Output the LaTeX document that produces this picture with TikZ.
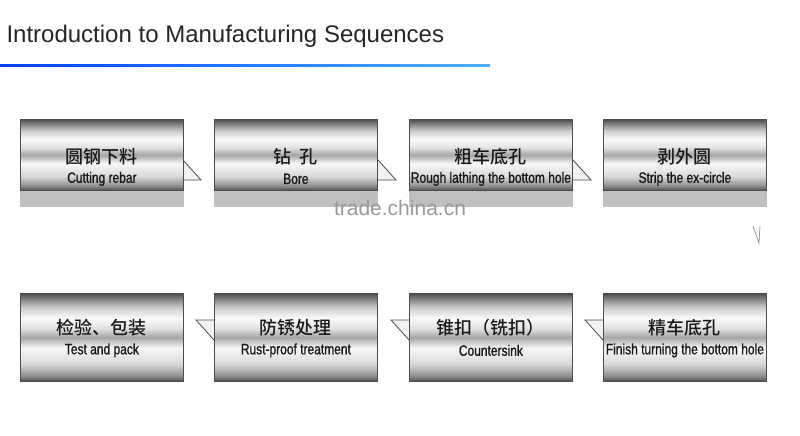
\documentclass[tikz,border=0pt]{standalone}
\usepackage{fontspec}
\setmainfont{Liberation Sans}
\newfontfamily\cjk{Noto Sans CJK SC Medium}
\newfontfamily\narrowf[FakeStretch=0.8,FakeBold=1.2]{Liberation Sans}
\pgfdeclareverticalshading{metal}{100bp}{
 color(0bp)=(black!70); color(25bp)=(black!70); color(28bp)=(black!45); color(35bp)=(black!15); color(44bp)=(black!3); color(50bp)=(black!35);
 color(55bp)=(black!12); color(61bp)=(black!2); color(67bp)=(black!20); color(72bp)=(black!50); color(75bp)=(black!70); color(100bp)=(black!70)}
\tikzset{
 stepbox/.style={draw=black!70, line width=0.8pt, shading=metal, minimum width=163pt, minimum height=71pt, inner sep=0pt, align=center},
 ptr/.style={draw=black!70, line width=0.8pt, fill=black!5},
 refl/.style={fill=black!25, draw=none},
 cn/.style={font=\cjk\fontsize{18}{18}\selectfont, text=black!90},
 en/.style={font=\narrowf\fontsize{15}{15}\selectfont, text=black!90}
}
\begin{document}
\begin{tikzpicture}[x=1pt,y=-1pt]
\useasboundingbox[fill=white] (0,0) rectangle (800,436);
\node[anchor=west, font=\fontsize{24}{24}\selectfont, text=black!85] (title) at (3,36) {Introduction to Manufacturing Sequences};
\fill[left color=blue!75!cyan, right color=blue!45!cyan!70] (0,65) rectangle (490,67);
\foreach \x in {20,214,409,603}{
  \fill[refl] (\x,190) rectangle ++(164,17);
}
\foreach \x in {183,378,573}{
  \draw[ptr] (\x,160) -- (\x+18,180) -- (\x,180);
}
\draw[black!50, line width=0.6pt] (753,226) -- (759,243) -- (760,226);
\node[stepbox, anchor=north west] (a) at (20,119) {};
\node[stepbox, anchor=north west] (b) at (214,119) {};
\node[stepbox, anchor=north west] (c) at (409,119) {};
\node[stepbox, anchor=north west] (d) at (603,119) {};
\foreach \x in {214,409,603}{
  \draw[ptr] (\x,340) -- (\x-18,320) -- (\x,320);
}
\node[stepbox, anchor=north west, minimum height=88pt] (e) at (20,293) {};
\node[stepbox, anchor=north west, minimum height=88pt] (f) at (214,293) {};
\node[stepbox, anchor=north west, minimum height=88pt] (g) at (409,293) {};
\node[stepbox, anchor=north west, minimum height=88pt] (h) at (603,293) {};
\foreach \n/\c/\e in {a/圆钢下料/Cutting rebar, b/钻\ \ 孔/Bore, c/粗车底孔/Rough lathing the bottom hole, d/剥外圆/Strip the ex-circle}{
  \node[cn] (\n c) at ([yshift=-2pt]\n.center) {\c};
  \node[en] (\n e) at ([yshift=-24pt]\n.center) {\e};
}
\foreach \n/\c/\e in {e/检验、包装/Test and pack, f/防锈处理/Rust-proof treatment, g/锥扣（铣扣）/Countersink, h/精车底孔/Finish turning the bottom hole}{
  \node[cn] (\n c) at ([yshift=10pt]\n.center) {\c};
  \node[en] (\n e) at ([yshift=-13pt]\n.center) {\e};
}
\node[font=\fontsize{21}{21}\selectfont, text=black!40] (wm) at (400,208) {trade.china.cn};
\end{tikzpicture}
\end{document}
